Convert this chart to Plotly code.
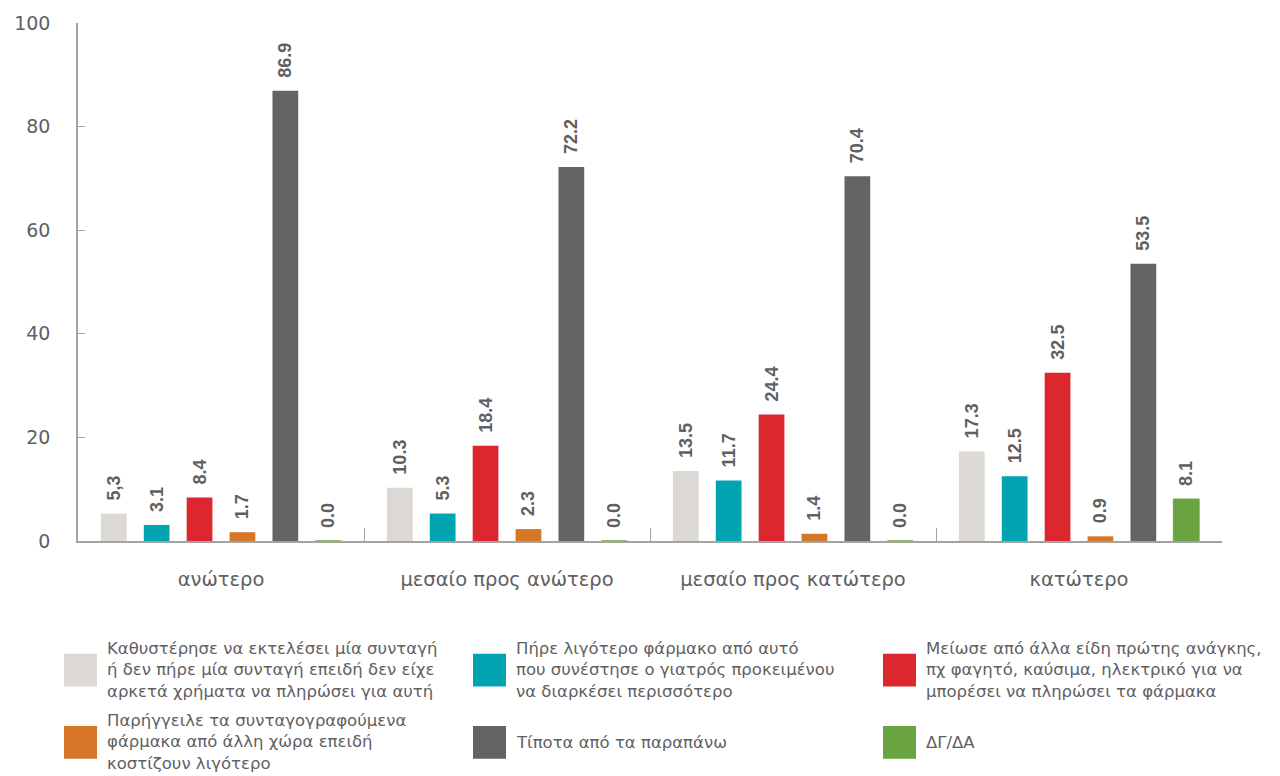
import plotly.graph_objects as go

# Income groups on the x axis
categories = ["ανώτερο", "μεσαίο προς ανώτερο", "μεσαίο προς κατώτερο", "κατώτερο"]

# Response series (percent)
series_names = [
    "Καθυστέρησε να εκτελέσει μία συνταγή<br>ή δεν πήρε μία συνταγή επειδή δεν είχε<br>αρκετά χρήματα να πληρώσει για αυτή",
    "Πήρε λιγότερο φάρμακο από αυτό<br>που συνέστησε ο γιατρός προκειμένου<br>να διαρκέσει περισσότερο",
    "Μείωσε από άλλα είδη πρώτης ανάγκης,<br>πχ φαγητό, καύσιμα, ηλεκτρικό για να<br>μπορέσει να πληρώσει τα φάρμακα",
    "Παρήγγειλε τα συνταγογραφούμενα<br>φάρμακα από άλλη χώρα επειδή<br>κοστίζουν λιγότερο",
    "Τίποτα από τα παραπάνω",
    "ΔΓ/ΔΑ",
]
delayed = [5.3, 10.3, 13.5, 17.3]
less_medicine = [3.1, 5.3, 11.7, 12.5]
cut_essentials = [8.4, 18.4, 24.4, 32.5]
ordered_abroad = [1.7, 2.3, 1.4, 0.9]
none_of_above = [86.9, 72.2, 70.4, 53.5]
dk_na = [0.0, 0.0, 0.0, 8.1]

series_values = [delayed, less_medicine, cut_essentials, ordered_abroad, none_of_above, dk_na]
colors = ["#dcd8d4", "#00a3b0", "#dc272e", "#d67728", "#636466", "#6aa341"]

y_ticks = [0, 20, 40, 60, 80, 100]

FONT = "DejaVu Sans"
VALUE_FONT = "Liberation Sans"
GREY = "#5f6062"
PAD = "\u00a0\u00a0"  # small gap between bar top and its rotated value label


def fmt(v, idx, cat):
    s = f"{v:.1f}"
    # the first label in the source uses a decimal comma
    if idx == 0 and cat == 0:
        s = s.replace(".", ",")
    return PAD + s


fig = go.Figure()
for i, (name, vals, col) in enumerate(zip(series_names, series_values, colors)):
    fig.add_trace(go.Bar(
        x=categories,
        y=vals,
        name=name,
        # the last series keeps a thin outline so its zero bars still show at the baseline
        marker=dict(color=col, line=dict(width=1 if i == 5 else 0, color=col)),
        text=[fmt(v, i, c) for c, v in enumerate(vals)],
        textposition="outside",
        textangle=-90,
        constraintext="none",
        cliponaxis=False,
        textfont=dict(family=VALUE_FONT, size=18, color=GREY, weight="bold"),
        showlegend=False,
    ))

# Custom legend: large square swatches with wrapped labels, 3 columns x 2 rows
PLOT_L, PLOT_R, PLOT_T, PLOT_B = 78, 1222, 19, 541
col_x = [64, 473, 883]
row_y = [671, 744]
W, H = 1280, 776
shapes = []
annotations = []
pw = PLOT_R - PLOT_L
ph = PLOT_B - PLOT_T
for i, (name, col) in enumerate(zip(series_names, colors)):
    r, c = divmod(i, 3)
    x0 = col_x[c]
    yc = row_y[r]
    shapes.append(dict(
        type="rect", xref="paper", yref="paper",
        x0=(x0 - PLOT_L) / pw, x1=(x0 + 33 - PLOT_L) / pw,
        y0=(PLOT_B - (yc + 16.5)) / ph, y1=(PLOT_B - (yc - 16.5)) / ph,
        fillcolor=col, line=dict(width=0),
    ))
    annotations.append(dict(
        xref="paper", yref="paper",
        x=(x0 + 41 - PLOT_L) / pw,
        y=(PLOT_B - yc) / ph,
        xanchor="left", yanchor="middle",
        text=name, showarrow=False, align="left",
        font=dict(family=FONT, size=16.5, color=GREY),
    ))

fig.update_layout(
    width=W, height=H,
    margin=dict(l=PLOT_L, r=W - PLOT_R, t=PLOT_T, b=H - PLOT_B),
    paper_bgcolor="white", plot_bgcolor="white",
    barmode="group",
    bargap=0.1,
    bargroupgap=0.4,
    shapes=shapes,
    annotations=annotations,
    font=dict(family=FONT, color=GREY),
)
fig.update_yaxes(
    range=[0, 100],
    tickvals=y_ticks,
    showgrid=False, zeroline=False,
    showline=True, linecolor="#a3a3a3", linewidth=1.5,
    ticks="inside", ticklen=7, tickcolor="#a3a3a3",
    ticklabelstandoff=22,
    tickfont=dict(family=FONT, size=19, color=GREY),
)
fig.update_xaxes(
    showgrid=False,
    showline=True, linecolor="#a3a3a3", linewidth=1.5,
    ticks="inside", ticklen=13, tickcolor="#a3a3a3", tickson="boundaries",
    ticklabelstandoff=20,
    tickfont=dict(family=FONT, size=19.5, color=GREY),
)

fig.write_html("out.html")
